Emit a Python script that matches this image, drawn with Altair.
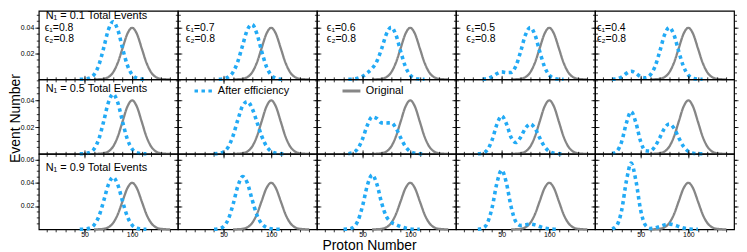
import altair as alt
import pandas as pd

N = None

# ---------------- data ----------------
X_GRID = [15, 20, 25, 30, 35, 40, 45, 50, 55, 60, 65, 70, 75, 80, 85, 90, 95, 100, 105, 110, 115, 120]

# Original (gray) distribution
GRAY_X = [60, 65, 70, 75, 80, 85, 90, 95, 100, 105, 110, 115, 120, 125, 130, 135, 140]
GRAY_Y = [0.00001, 0.00009, 0.00044, 0.00175, 0.0054, 0.01295, 0.0242, 0.0352, 0.03989,
          0.0352, 0.0242, 0.01295, 0.0054, 0.00175, 0.00044, 0.00009, 0.00001]

# After efficiency (blue dotted), one list per panel on X_GRID
B_COL1 = [N, N, N, N, N, N, 0.00002, 0.00016, 0.0009, 0.00366, 0.01093, 0.02387, 0.03815, 0.0446,
          0.03815, 0.02387, 0.01093, 0.00366, 0.0009, 0.00016, 0.00002, N]

B_R1C2 = [N, N, N, N, N, N, 0.00007, 0.00042, 0.00176, 0.00563, 0.01383, 0.02625, 0.03832, 0.04247,
          0.03529, 0.02176, 0.00989, 0.0033, 0.00081, 0.00014, 0.00002, N]
B_R1C3 = [N, N, N, N, 0.00003, 0.00019, 0.00081, 0.00238, 0.00499, 0.00845, 0.01402, 0.02372, 0.03512,
          0.04032, 0.03436, 0.02149, 0.00984, 0.00329, 0.00081, 0.00014, 0.00002, N]
B_R1C4 = [N, N, N, 0.0001, 0.00059, 0.00208, 0.00441, 0.00579, 0.0052, 0.00537, 0.01043, 0.02159,
          0.03434, 0.04014, 0.03433, 0.02149, 0.00984, 0.00329, 0.00081, 0.00014, 0.00002, N]
B_R1C5 = [N, 0.00004, 0.00038, 0.00181, 0.00461, 0.00631, 0.00463, 0.00195, 0.00119, 0.00334, 0.00984,
          0.02149, 0.03433, 0.04014, 0.03433, 0.02149, 0.00984, 0.00329, 0.00081, 0.00014, 0.00002, N]

B_R2C2 = [N, N, N, N, N, 0.00004, 0.00029, 0.00145, 0.00523, 0.0135, 0.02541, 0.03578, 0.03902,
          0.03397, 0.02385, 0.01331, 0.00574, 0.00187, 0.00045, 0.00008, 0.00001, N]
B_R2C3 = [N, N, N, N, 0.00014, 0.00092, 0.00396, 0.01127, 0.02136, 0.02758, 0.02637, 0.02313, 0.02302,
          0.02322, 0.01921, 0.01195, 0.00547, 0.00183, 0.00045, 0.00008, 0.00001, N]
B_R2C4 = [N, N, 0.00005, 0.00052, 0.00297, 0.01038, 0.02198, 0.02829, 0.02242, 0.01221, 0.00844,
          0.01245, 0.01913, 0.0223, 0.01907, 0.01194, 0.00547, 0.00183, 0.00045, 0.00008, 0.00001, N]
B_R2C5 = [N, 0.00021, 0.00189, 0.00904, 0.02307, 0.03154, 0.02309, 0.00912, 0.00234, 0.00204, 0.00548,
          0.01194, 0.01907, 0.0223, 0.01907, 0.01194, 0.00547, 0.00183, 0.00045, 0.00008, 0.00001, N]

B_R3C2 = [N, N, N, N, N, 0.00007, 0.0005, 0.00248, 0.00869, 0.02137, 0.03699, 0.0453, 0.03971,
          0.02547, 0.01242, 0.00485, 0.00159, 0.00044, 0.0001, 0.00002, N, N]
B_R3C3 = [N, N, N, 0.00003, 0.00025, 0.00165, 0.00711, 0.02016, 0.03772, 0.04672, 0.03872, 0.02253,
          0.01092, 0.00611, 0.00407, 0.00241, 0.0011, 0.00037, 0.00009, 0.00002, N, N]
B_R3C4 = [N, N, 0.0001, 0.00093, 0.00535, 0.01868, 0.03955, 0.05079, 0.03964, 0.01905, 0.00645,
          0.00332, 0.00391, 0.00447, 0.00381, 0.00239, 0.00109, 0.00037, 0.00009, 0.00002, N, N]
B_R3C5 = [N, 0.00038, 0.00341, 0.01627, 0.04153, 0.05677, 0.04154, 0.01628, 0.0035, 0.00075, 0.00112,
          0.00239, 0.00381, 0.00446, 0.00381, 0.00239, 0.00109, 0.00037, 0.00009, 0.00002, N, N]

BLUE = [
    [B_COL1, B_R1C2, B_R1C3, B_R1C4, B_R1C5],
    [B_COL1, B_R2C2, B_R2C3, B_R2C4, B_R2C5],
    [B_COL1, B_R3C2, B_R3C3, B_R3C4, B_R3C5],
]

SERIES = ["After efficiency", "Original"]
ROW_LABELS = ["N\u2081 = 0.1 Total Events", "N\u2081 = 0.5 Total Events", "N\u2081 = 0.9 Total Events"]
EPS1 = ["0.8", "0.7", "0.6", "0.5", "0.4"]
EPS2 = "0.8"

X_MAJOR = [50, 100]
X_MINOR = [10, 20, 30, 40, 50, 60, 70, 80, 90, 100, 110, 120, 130, 140]
Y_MAJOR = [[0.02, 0.04], [0.02, 0.04], [0.02, 0.04, 0.06]]
Y_MINOR = [
    [0.005, 0.01, 0.015, 0.02, 0.025, 0.03, 0.035, 0.04, 0.045, 0.05],
    [0.005, 0.01, 0.015, 0.02, 0.025, 0.03, 0.035, 0.04, 0.045, 0.05, 0.055],
    [0.005, 0.01, 0.015, 0.02, 0.025, 0.03, 0.035, 0.04, 0.045, 0.05, 0.055, 0.06],
]

# ---------------- styling / layout ----------------
BLUE_C = "#22aaf5"
GRAY_C = "#868686"
W = 140
ROW_H = [69, 75, 76]
Y_TOP = [0.053, 0.0556, 0.0647]
ROW_LABEL_Y = [8.5, 12.5, 17]
EPS_X = [6, 8, 10, 10.5, 2]
EPS_Y = [20.5, 31]
FONT = "Liberation Sans"

legend = alt.Legend(
    orient="none", legendX=155.3, legendY=70, direction="horizontal", title=None,
    symbolType="stroke", symbolSize=324, symbolStrokeWidth=3, labelFontSize=11,
    labelOffset=4, columnPadding=47, padding=0, labelColor="black", labelFont=FONT,
)
color = alt.Color("series:N", scale=alt.Scale(domain=SERIES, range=[BLUE_C, GRAY_C]), legend=legend)
dash = alt.StrokeDash("series:N", scale=alt.Scale(domain=SERIES, range=[[3.5, 3.5], [1, 0]]), legend=legend)

common_ax = dict(domain=False, grid=False, tickColor="black", tickWidth=0.8, labelColor="black", labelFont=FONT)

gray_df = pd.DataFrame({"x": GRAY_X, "y": GRAY_Y, "series": "Original"})
one_row = pd.DataFrame({"k": [0]})


def text_layer(txt, x, y, size):
    return (
        alt.Chart(one_row)
        .mark_text(text=txt, align="left", baseline="alphabetic", fontSize=size, color="black", font=FONT)
        .encode(x=alt.value(x), y=alt.value(y))
    )


def panel(r, c):
    blue_df = pd.DataFrame({"x": X_GRID, "y": BLUE[r][c], "series": "After efficiency"}).dropna()
    xs = alt.Scale(domain=[2, 148], nice=False, zero=False)
    ys = alt.Scale(domain=[0, Y_TOP[r]], nice=False, zero=False)

    xb = dict(orient="bottom", values=X_MAJOR, labels=(r == 2), tickSize=4, labelFontSize=7,
              labelPadding=-3, labelFlush=False, **common_ax)
    x_title = None
    if r == 2 and c == 2:
        x_title = "Proton Number"
        xb.update(titleX=52.5, titleY=20, titleAlign="center", titleBaseline="alphabetic",
                  titleFontSize=14, titleFontWeight="normal", titleColor="black", titleFont=FONT)
    yl = dict(orient="left", values=Y_MAJOR[r], labels=(c == 0), format=".2f", tickSize=4,
              labelFontSize=7, labelPadding=1, labelFlush=False, **common_ax)
    y_title = None
    if r == 1 and c == 0:
        y_title = "Event Number"
        yl.update(titleX=-16, titleY=39, titleAngle=270, titleAlign="center", titleBaseline="bottom",
                  titleFontSize=14, titleFontWeight="normal", titleColor="black", titleFont=FONT)

    gray_line = alt.Chart(gray_df).mark_line(strokeWidth=2.3, interpolate="monotone").encode(
        x=alt.X("x:Q", scale=xs, axis=alt.Axis(**xb), title=x_title),
        y=alt.Y("y:Q", scale=ys, axis=alt.Axis(**yl), title=y_title),
        color=color, strokeDash=dash,
    )
    blue_line = alt.Chart(blue_df).mark_line(strokeWidth=3.6, interpolate="monotone").encode(
        x=alt.X("x:Q", scale=xs, title=None,
                axis=alt.Axis(orient="bottom", values=X_MINOR, labels=False, tickSize=2.5, **common_ax)),
        y=alt.Y("y:Q", scale=ys, title=None,
                axis=alt.Axis(orient="left", values=Y_MINOR[r], labels=False, tickSize=2.5, **common_ax)),
        color=color, strokeDash=dash,
    )
    top_major = alt.Axis(orient="top", values=X_MAJOR, labels=False, tickSize=4, **common_ax) if r > 0 else None
    top_minor = alt.Axis(orient="top", values=X_MINOR, labels=False, tickSize=2.5, **common_ax) if r > 0 else None
    ghost1 = alt.Chart(gray_df).mark_line(opacity=0).encode(
        x=alt.X("x:Q", scale=xs, title=None, axis=top_major),
        y=alt.Y("y:Q", scale=ys, title=None,
                axis=alt.Axis(orient="right", values=Y_MAJOR[r], labels=False, tickSize=4, **common_ax)),
    )
    ghost2 = alt.Chart(gray_df).mark_line(opacity=0).encode(
        x=alt.X("x:Q", scale=xs, title=None, axis=top_minor),
        y=alt.Y("y:Q", scale=ys, title=None,
                axis=alt.Axis(orient="right", values=Y_MINOR[r], labels=False, tickSize=2.5, **common_ax)),
    )
    layers = [gray_line, blue_line, ghost1, ghost2]
    if c == 0:
        layers.append(text_layer(ROW_LABELS[r], 7, ROW_LABEL_Y[r], 11))
    if r == 0:
        layers.append(text_layer("\u03f5\u2081=" + EPS1[c], EPS_X[c], EPS_Y[0], 10.5))
        layers.append(text_layer("\u03f5\u2082=" + EPS2, EPS_X[c], EPS_Y[1], 10.5))
    return alt.layer(*layers).properties(width=W, height=ROW_H[r]).resolve_axis(x="independent", y="independent")


panels = [panel(r, c) for r in range(3) for c in range(5)]
chart = (
    alt.concat(*panels, columns=5, spacing=0, bounds="flush", align="each")
    .properties(padding=0)
    .configure(font=FONT)
    .configure_view(stroke="black", strokeWidth=1.2)
)

chart.save("out.html", embed_options={"renderer": "svg", "actions": False})
